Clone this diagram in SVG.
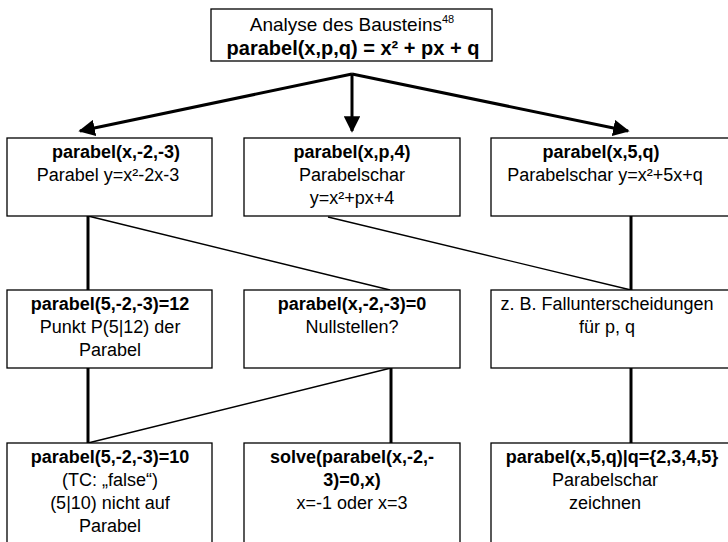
<svg xmlns="http://www.w3.org/2000/svg" width="728" height="542" viewBox="0 0 728 542">
<defs>
<marker id="ah" viewBox="0 0 10 10" refX="9" refY="5" markerWidth="5.5" markerHeight="5.5" orient="auto" markerUnits="strokeWidth">
<path d="M0,0 L10,5 L0,10 z" fill="#000"/>
</marker>
<style>
.box{fill:#fff;stroke:#000;stroke-width:1.3}
text{font-family:"Liberation Sans",Arial,sans-serif;font-size:18px;fill:#000;text-anchor:middle}
.b{font-weight:bold}
.t{font-size:19px}
.t2{font-size:20px}
.thick{stroke:#000;stroke-width:3;fill:none}
.thin{stroke:#000;stroke-width:1.4;fill:none}
</style>
</defs>
<rect width="728" height="542" fill="#fff"/>
<g id="connectors">
<line class="thick" x1="352" y1="74" x2="80" y2="131" marker-end="url(#ah)"/>
<line class="thick" x1="352" y1="74" x2="352" y2="131" marker-end="url(#ah)"/>
<line class="thick" x1="352" y1="74" x2="628" y2="131" marker-end="url(#ah)"/>
<line class="thick" x1="88" y1="216" x2="88" y2="290"/>
<line class="thin" x1="88" y1="216" x2="390" y2="290"/>
<line class="thin" x1="328" y1="217" x2="631" y2="290"/>
<line class="thick" x1="631" y1="216" x2="631" y2="290"/>
<line class="thick" x1="88" y1="368" x2="88" y2="443"/>
<line class="thick" x1="391" y1="368" x2="391" y2="443"/>
<line class="thin" x1="391" y1="368" x2="88" y2="443"/>
<line class="thick" x1="631" y1="368" x2="631" y2="443"/>
</g>
<g id="n0">
<rect class="box" x="211" y="9" width="281" height="52"/>
<text class="t" x="352" y="31">Analyse des Bausteins<tspan font-size="11" dy="-8">48</tspan></text>
<text class="t2 b" x="353" y="55">parabel(x,p,q) = x² + px + q</text>
</g>
<g id="n1">
<rect class="box" x="7" y="138" width="205" height="78"/>
<text class="b" x="116" y="158">parabel(x,-2,-3)</text>
<text x="108" y="181">Parabel y=x²-2x-3</text>
</g>
<g id="n2">
<rect class="box" x="244" y="138" width="216" height="78"/>
<text class="b" x="352" y="158">parabel(x,p,4)</text>
<text x="352" y="181">Parabelschar</text>
<text x="352" y="204">y=x²+px+4</text>
</g>
<g id="n3">
<rect class="box" x="491" y="138" width="240" height="78"/>
<text class="b" x="601" y="158">parabel(x,5,q)</text>
<text x="605" y="181">Parabelschar y=x²+5x+q</text>
</g>
<g id="n4">
<rect class="box" x="7" y="290" width="205" height="78"/>
<text class="b" x="110" y="310">parabel(5,-2,-3)=12</text>
<text x="110" y="333">Punkt P(5|12) der</text>
<text x="110" y="356">Parabel</text>
</g>
<g id="n5">
<rect class="box" x="244" y="290" width="216" height="78"/>
<text class="b" x="352" y="310">parabel(x,-2,-3)=0</text>
<text x="352" y="333">Nullstellen?</text>
</g>
<g id="n6">
<rect class="box" x="491" y="290" width="240" height="78"/>
<text x="607" y="310">z. B. Fallunterscheidungen</text>
<text x="607" y="333">für p, q</text>
</g>
<g id="n7">
<rect class="box" x="7" y="443" width="205" height="110"/>
<text class="b" x="110" y="463">parabel(5,-2,-3)=10</text>
<text x="110" y="486">(TC: „false“)</text>
<text x="110" y="509">(5|10) nicht auf</text>
<text x="110" y="532">Parabel</text>
</g>
<g id="n8">
<rect class="box" x="244" y="443" width="216" height="110"/>
<text class="b" x="352" y="463">solve(parabel(x,-2,-</text>
<text class="b" x="352" y="486">3)=0,x)</text>
<text x="352" y="509">x=-1 oder x=3</text>
</g>
<g id="n9">
<rect class="box" x="491" y="443" width="240" height="110"/>
<text class="b" x="612" y="463">parabel(x,5,q)|q={2,3,4,5}</text>
<text x="605" y="486">Parabelschar</text>
<text x="605" y="509">zeichnen</text>
</g>
</svg>
